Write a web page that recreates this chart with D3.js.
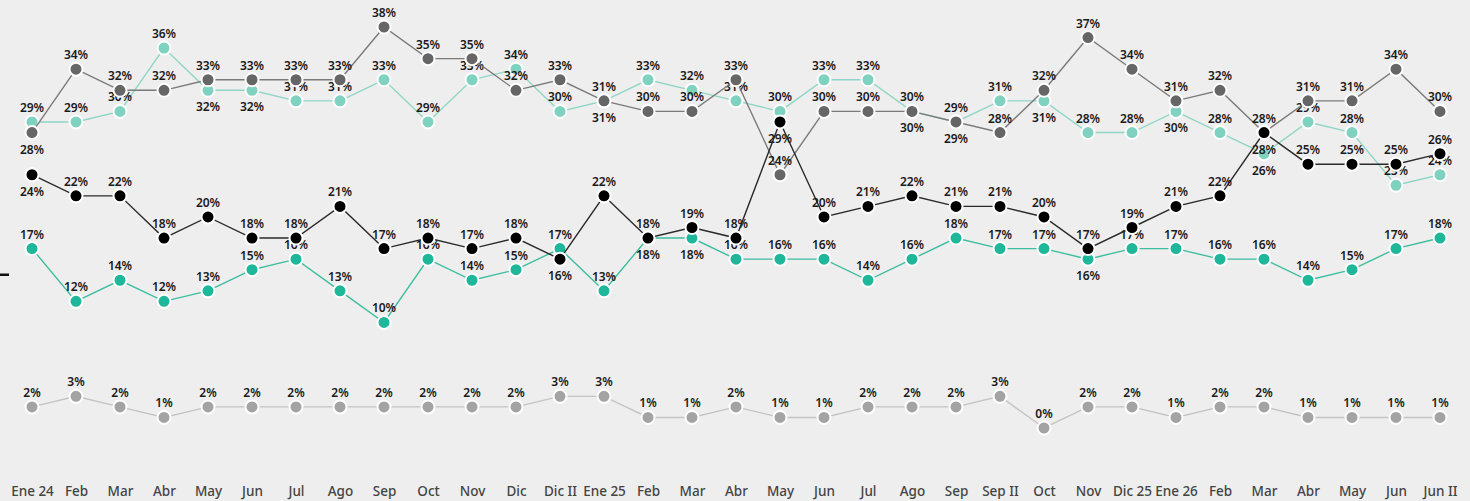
<!DOCTYPE html>
<html>
<head>
<meta charset="utf-8">
<script src="https://cdn.jsdelivr.net/npm/d3@7"></script>
<style>
html,body{margin:0;padding:0;background:#eeeeee;}
svg{display:block;}
</style>
</head>
<body>
<svg id="chart" width="1470" height="501"></svg>
<script>
const categories = ["Ene 24","Feb","Mar","Abr","May","Jun","Jul","Ago","Sep","Oct","Nov","Dic","Dic II","Ene 25","Feb","Mar","Abr","May","Jun","Jul","Ago","Sep","Sep II","Oct","Nov","Dic 25","Ene 26","Feb","Mar","Abr","May","Jun","Jun II"];

const grayValues  = [2,3,2,1,2,2,2,2,2,2,2,2,3,3,1,1,2,1,1,2,2,2,3,0,2,2,1,2,2,1,1,1,1];
const tealValues  = [29,29,30,36,32,32,31,31,33,29,33,34,30,31,33,32,31,30,33,33,30,29,31,31,28,28,30,28,26,29,28,23,24];
const greenValues = [17,12,14,12,13,15,16,13,10,16,14,15,17,13,18,18,16,16,16,14,16,18,17,17,16,17,17,16,16,14,15,17,18];
const darkValues  = [28,34,32,32,33,33,33,33,38,35,35,32,33,31,30,30,33,24,30,30,30,29,28,32,37,34,31,32,28,31,31,34,30];
const blackValues = [24,22,22,18,20,18,18,21,17,18,17,18,16,22,18,19,18,29,20,21,22,21,21,20,17,19,21,22,28,25,25,25,26];

const series = [
  {key:"gray",  values:grayValues,  fill:"#a3a3a3", line:"#c4c4c4"},
  {key:"teal",  values:tealValues,  fill:"#80d2c0", line:"#8fd6c6"},
  {key:"green", values:greenValues, fill:"#1fb799", line:"#3dbd9f"},
  {key:"dark",  values:darkValues,  fill:"#666666", line:"#7a7a7a"},
  {key:"black", values:blackValues, fill:"#000000", line:"#2a2a2a"}
];

const svg = d3.select("#chart");
const idx = d3.range(categories.length);
const x = d3.scalePoint().domain(idx).range([32,1440]);
const y = d3.scaleLinear().domain([0,38]).range([428,27]);

const placement = series.map(() => []);
const priority = {black:0, dark:1, green:2, teal:3, gray:4};
idx.forEach(i => {
  const pts = series.map((s,si) => ({si, v:s.values[i], p:priority[s.key]}))
    .sort((a,b) => b.v - a.v || a.p - b.p);
  pts.forEach((pt,k) => {
    let below = false;
    if (k > 0) {
      const prev = pts[k-1];
      const d = prev.v - pt.v;
      if (d <= 1) below = true;
      else if (placement[prev.si][i] && d <= 4) below = true;
    }
    placement[pt.si][i] = below;
  });
});

svg.append("rect").attr("x",0).attr("y",273.5).attr("width",9).attr("height",2.5).attr("fill","#111");

const axis = d3.axisBottom(x).tickFormat(i => categories[i]).tickSize(0).tickPadding(0);
const ag = svg.append("g").attr("transform","translate(0,486)").call(axis);
ag.select(".domain").remove();
ag.selectAll("text")
  .attr("font-family","'Noto Sans', sans-serif")
  .attr("font-size",13.5)
  .attr("font-weight",500)
  .attr("fill","#444")
  .attr("dy","0.71em");

const line = d3.line().x((d,i) => x(i)).y(d => y(d));

series.forEach((s,si) => {
  const g = svg.append("g").attr("class","series-"+s.key);
  g.append("path").datum(s.values)
    .attr("d", line).attr("fill","none")
    .attr("stroke", s.line).attr("stroke-width",1.4);
  g.selectAll("circle").data(s.values).join("circle")
    .attr("cx",(d,i) => x(i)).attr("cy", d => y(d))
    .attr("r",6.5).attr("fill", s.fill)
    .attr("stroke","#ffffff").attr("stroke-width",2);
  g.selectAll("text").data(s.values).join("text")
    .attr("x",(d,i) => x(i))
    .attr("y",(d,i) => placement[si][i] ? y(d) + 21 : y(d) - 10)
    .attr("text-anchor","middle")
    .attr("font-family","'Noto Sans', sans-serif")
    .attr("font-weight",600)
    .attr("font-size",12)
    .attr("fill","#1a1a1a")
    .text(d => d + "%");
});
</script>
</body>
</html>
